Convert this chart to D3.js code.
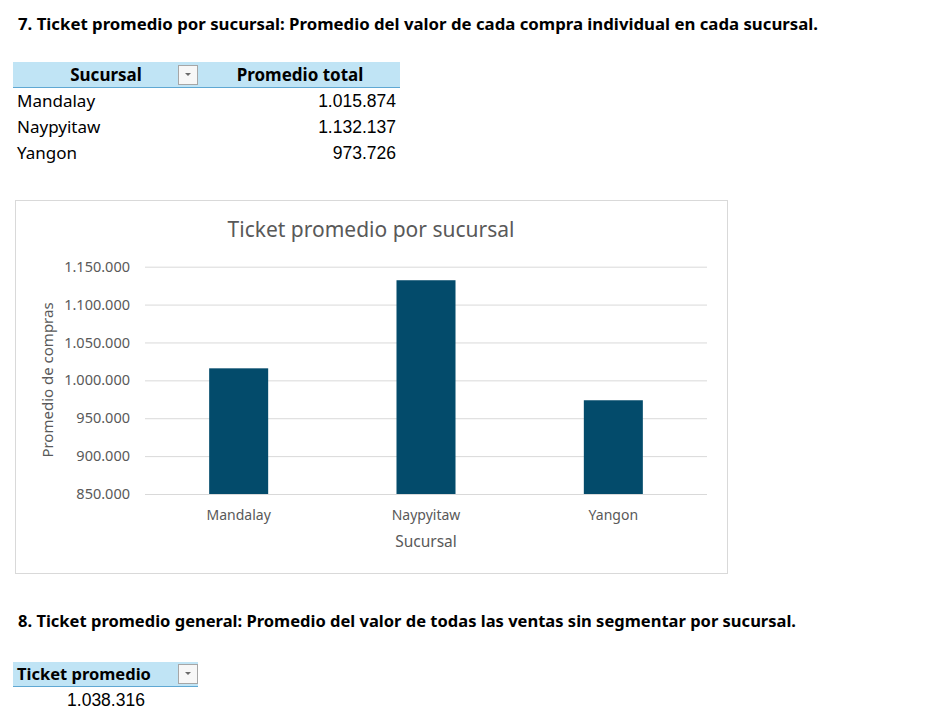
<!DOCTYPE html>
<html><head><meta charset="utf-8">
<script src="https://cdn.jsdelivr.net/npm/d3@7"></script>
<style>
html,body{margin:0;padding:0;background:#fff;}
svg{display:block;}
</style></head>
<body>
<svg id="c" width="942" height="721"></svg>
<script>
// ---- data ----
const heading1 = "7. Ticket promedio por sucursal: Promedio del valor de cada compra individual en cada sucursal.";
const heading2 = "8. Ticket promedio general: Promedio del valor de todas las ventas sin segmentar por sucursal.";
const tableHeaders = ["Sucursal", "Promedio total"];
const categories = ["Mandalay", "Naypyitaw", "Yangon"];
const values = [1015874, 1132137, 973726];
const yTicks = [850000, 900000, 950000, 1000000, 1050000, 1100000, 1150000];
const chartTitle = "Ticket promedio por sucursal";
const yAxisTitle = "Promedio de compras";
const xAxisTitle = "Sucursal";
const generalHeader = "Ticket promedio";
const generalValue = 1038316;

const fmt = v => d3.format(",")(v).replace(/,/g, ".");
const FONT = "'Noto Sans', 'Open Sans', Lato, sans-serif";
const NUMFONT = "'Liberation Sans', Arial, sans-serif";
const svg = d3.select("#c").style("font-family", FONT);

// ---- headings ----
svg.append("text").attr("x", 18).attr("y", 30).attr("font-weight", 700).attr("font-size", 16)
  .attr("fill", "#000").attr("textLength", 800).attr("lengthAdjust", "spacingAndGlyphs").text(heading1);
svg.append("text").attr("x", 18).attr("y", 627).attr("font-weight", 700).attr("font-size", 16)
  .attr("fill", "#000").attr("textLength", 778).attr("lengthAdjust", "spacingAndGlyphs").text(heading2);

// ---- dropdown button helper ----
function dropdown(x, y) {
  const g = svg.append("g").attr("transform", `translate(${x},${y})`);
  g.append("rect").attr("x", 0.5).attr("y", 0.5).attr("width", 19).attr("height", 19)
    .attr("fill", "#f7f7f7").attr("stroke", "#a6a6a6");
  g.append("path").attr("d", "M7,8 L13,8 L10,11 Z").attr("fill", "#6b6b6b");
}

// ---- table 1 ----
svg.append("rect").attr("x", 13).attr("y", 62).attr("width", 387).attr("height", 25).attr("fill", "#c0e4f5");
svg.append("line").attr("x1", 13).attr("x2", 400).attr("y1", 87.5).attr("y2", 87.5).attr("stroke", "#5fa8d3").attr("stroke-width", 1.2);
svg.append("text").attr("x", 106).attr("y", 81).attr("text-anchor", "middle").attr("font-weight", 700)
  .attr("font-size", 17).text(tableHeaders[0]);
svg.append("text").attr("x", 300).attr("y", 81).attr("text-anchor", "middle").attr("font-weight", 700)
  .attr("font-size", 17).text(tableHeaders[1]);
dropdown(178, 65);
categories.forEach((c, i) => {
  const y = 107 + i * 26;
  svg.append("text").attr("x", 17).attr("y", y).attr("font-size", 17).text(c);
  svg.append("text").attr("x", 396).attr("y", y).attr("text-anchor", "end").attr("font-size", 17.5)
    .attr("font-family", NUMFONT).text(fmt(values[i]));
});

// ---- chart ----
svg.append("rect").attr("x", 15.5).attr("y", 200.5).attr("width", 712).attr("height", 373)
  .attr("fill", "#fff").attr("stroke", "#d9d9d9");
svg.append("text").attr("x", 371).attr("y", 237).attr("text-anchor", "middle").attr("font-size", 21)
  .attr("fill", "#595959").text(chartTitle);

const plotL = 145, plotR = 707, plotT = 266.7, plotB = 494;
const x = d3.scaleBand().domain(categories).range([plotL, plotR]).paddingInner(0.685).paddingOuter(0.3425);
const y = d3.scaleLinear().domain([850000, 1150000]).range([plotB, plotT]);

const yAxis = d3.axisLeft(y).tickValues(yTicks).tickSize(-(plotR - plotL)).tickPadding(15).tickFormat(fmt);
const gy = svg.append("g").attr("transform", `translate(${plotL},0)`).call(yAxis);
gy.select(".domain").remove();
gy.selectAll(".tick line").attr("stroke", "#d9d9d9").attr("stroke-width", 1);
gy.selectAll(".tick text").attr("fill", "#595959").attr("font-size", 14.5).attr("font-family", FONT);

svg.append("g").selectAll("rect").data(categories).join("rect")
  .attr("x", d => x(d)).attr("width", x.bandwidth())
  .attr("y", (d, i) => y(values[i])).attr("height", (d, i) => plotB - y(values[i]))
  .attr("fill", "#034b6b");

const xAxis = d3.axisBottom(x).tickSize(0).tickPadding(16);
const gx = svg.append("g").attr("transform", `translate(0,${plotB})`).call(xAxis);
gx.select(".domain").attr("stroke", "#d9d9d9").attr("d", `M${plotL},0.5H${plotR}`);
gx.selectAll(".tick text").attr("fill", "#595959").attr("font-size", 14).attr("font-family", FONT);

svg.append("text").attr("x", (plotL + plotR) / 2).attr("y", 547).attr("text-anchor", "middle").attr("font-size", 15.5)
  .attr("fill", "#595959").text(xAxisTitle);
svg.append("text").attr("transform", "translate(53,380) rotate(-90)").attr("text-anchor", "middle")
  .attr("font-size", 15).attr("fill", "#595959").text(yAxisTitle);

// ---- table 2 ----
svg.append("rect").attr("x", 13).attr("y", 662).attr("width", 185).attr("height", 24).attr("fill", "#c0e4f5");
svg.append("line").attr("x1", 13).attr("x2", 198).attr("y1", 686.5).attr("y2", 686.5).attr("stroke", "#5fa8d3").attr("stroke-width", 1.2);
svg.append("text").attr("x", 17).attr("y", 680).attr("font-weight", 700).attr("font-size", 16.5).text(generalHeader);
dropdown(178, 664);
svg.append("text").attr("x", 106).attr("y", 706).attr("text-anchor", "middle").attr("font-size", 17.5)
  .attr("font-family", NUMFONT).text(fmt(generalValue));
</script>
</body></html>
